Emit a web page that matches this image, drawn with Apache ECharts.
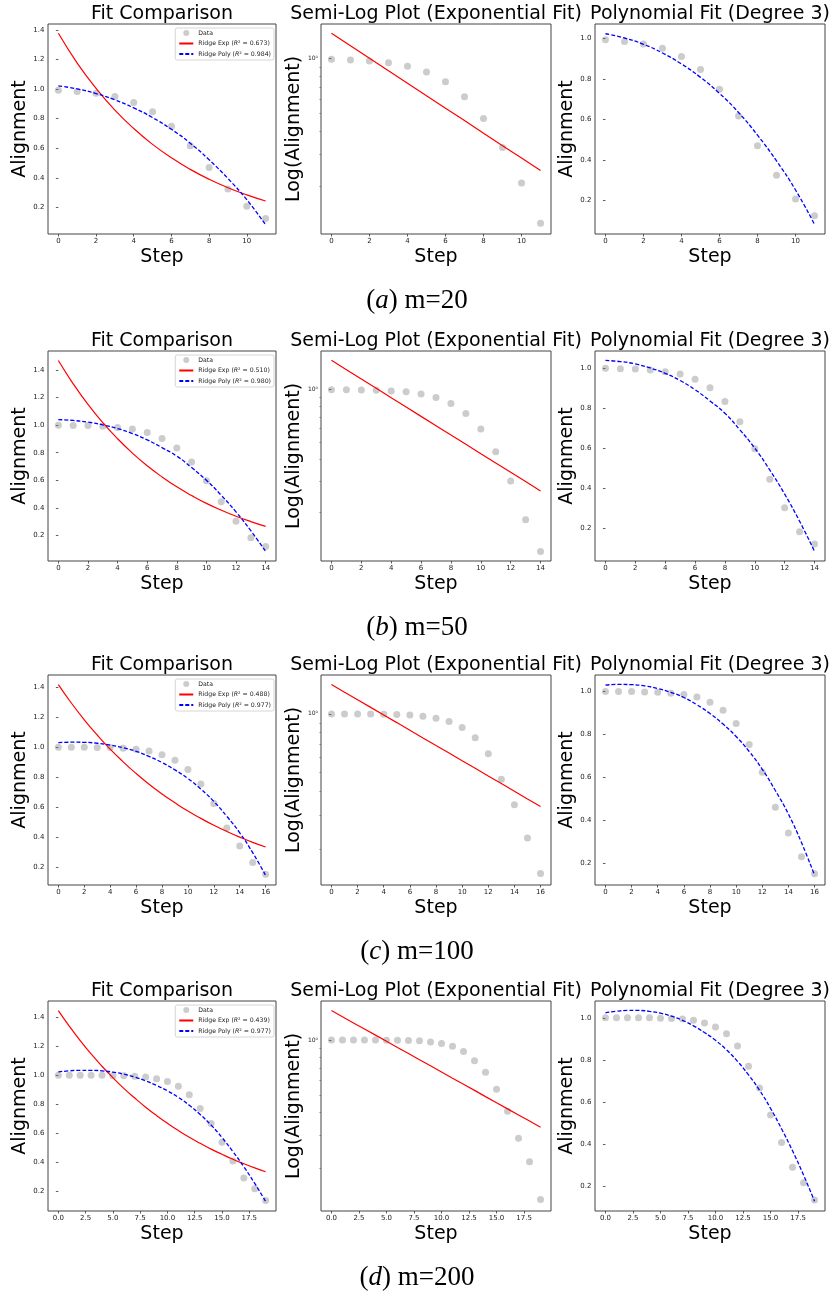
<!DOCTYPE html>
<html><head><meta charset="utf-8">
<script src="https://cdn.jsdelivr.net/npm/echarts@6/dist/echarts.min.js"></script>
<style>html,body{margin:0;padding:0;background:#fff}#c{width:833px;height:1296px}</style>
</head><body><div id="c"></div>
<script>
// ---------------- data ----------------
const steps_a = [0,1,2,3,4,5,6,7,8,9,10,11];
const data_a  = [0.992,0.984,0.972,0.950,0.910,0.846,0.748,0.617,0.470,0.325,0.208,0.125];
const exp_a   = [1.377,1.176,1.005,0.858,0.733,0.626,0.535,0.457,0.390,0.333,0.285,0.243];
const poly_a  = [1.022,1.001,0.970,0.927,0.873,0.807,0.728,0.634,0.522,0.395,0.252,0.082];

const steps_b = [0,1,2,3,4,5,6,7,8,9,10,11,12,13,14];
const data_b  = [1.000,0.998,0.997,0.992,0.983,0.972,0.946,0.903,0.834,0.732,0.597,0.444,0.302,0.182,0.120];
const exp_b   = [1.469,1.300,1.150,1.018,0.901,0.797,0.705,0.624,0.552,0.489,0.432,0.383,0.339,0.300,0.265];
const poly_b  = [1.040,1.034,1.022,1.002,0.975,0.939,0.893,0.837,0.775,0.692,0.600,0.491,0.370,0.234,0.083];

const steps_c = [0,1,2,3,4,5,6,7,8,9,10,11,12,13,14,15,16];
const data_c  = [1.000,1.000,1.000,0.998,0.997,0.992,0.986,0.974,0.950,0.913,0.851,0.753,0.623,0.460,0.340,0.229,0.150];
const exp_c   = [1.418,1.295,1.183,1.081,0.987,0.902,0.824,0.752,0.687,0.628,0.573,0.524,0.478,0.437,0.399,0.364,0.333];
const poly_c  = [1.030,1.033,1.032,1.026,1.014,0.996,0.972,0.938,0.897,0.848,0.790,0.720,0.637,0.538,0.428,0.295,0.143];

const steps_d = [0,1,2,3,4,5,6,7,8,9,10,11,12,13,14,15,16,17,18,19];
const data_d  = [1.000,1.000,1.000,1.000,1.000,0.998,0.997,0.994,0.989,0.976,0.957,0.924,0.866,0.770,0.667,0.538,0.408,0.290,0.216,0.134];
const exp_d   = [1.448,1.340,1.240,1.148,1.063,0.984,0.910,0.843,0.780,0.722,0.668,0.618,0.572,0.530,0.490,0.454,0.420,0.389,0.360,0.333];
const poly_d  = [1.024,1.031,1.035,1.035,1.031,1.022,1.008,0.988,0.962,0.930,0.893,0.848,0.793,0.729,0.656,0.570,0.473,0.368,0.253,0.128];

const r2Exp  = ['0.673','0.510','0.488','0.439'];
const r2Poly = ['0.984','0.980','0.977','0.977'];
const captionLetters = ['a','b','c','d'];
const captionM = ['m=20','m=50','m=100','m=200'];

// tick labels
const xTicks_a = [0,2,4,6,8,10];
const xTicks_b = [0,2,4,6,8,10,12,14];
const xTicks_c = [0,2,4,6,8,10,12,14,16];
const xTicks_d = [0,2.5,5,7.5,10,12.5,15,17.5];
const yTicksFit  = [0.2,0.4,0.6,0.8,1.0,1.2,1.4];
const yTicksPoly = [0.2,0.4,0.6,0.8,1.0];
const logMinorTicks = [0.2,0.3,0.4,0.5,0.6,0.7,0.8,0.9];
const colTitles = ['Fit Comparison','Semi-Log Plot (Exponential Fit)','Polynomial Fit (Degree 3)'];
const colYNames = ['Alignment','Log(Alignment)','Alignment'];

// axis limits
const xMin = [-0.55,-0.7,-0.8,-0.95], xMax = [11.55,14.7,16.8,19.95];
const yFitMin = [0.02,0.014,0.079,0.062], yFitMax = [1.44,1.538,1.482,1.514];
const yLogMin = [0.109,0.106,0.131,0.116], yLogMax = [1.55,1.66,1.588,1.634];
const yPolyMin = [0.035,0.035,0.097,0.082], yPolyMax = [1.07,1.087,1.077,1.080];

// ---------------- layout ----------------
const W = 833;
const colLeft = [48,321,595], colWidth = [228,230,230];
const rowTop = [24,351,675,1001], rowH = 210;
const colCenter = [162,436,710];
const yNameGap = [18,16,17];

const rows = [
  {steps:steps_a,data:data_a,exp:exp_a,poly:poly_a,xt:xTicks_a,dec:0},
  {steps:steps_b,data:data_b,exp:exp_b,poly:poly_b,xt:xTicks_b,dec:0},
  {steps:steps_c,data:data_c,exp:exp_c,poly:poly_c,xt:xTicks_c,dec:0},
  {steps:steps_d,data:data_d,exp:exp_d,poly:poly_d,xt:xTicks_d,dec:1}
];

const FONT = 'DejaVu Sans';
const titles = [], legends = [], grids = [], xAxes = [], yAxes = [], series = [];
const tickStyle = {color:'#333', width:0.8};
const lblStyle = {fontSize:7, color:'#222', fontFamily:FONT};
const nameStyle = {fontSize:19, color:'#000', fontFamily:FONT};
const dotColor = 'rgba(128,128,128,0.5)';

rows.forEach((R, r) => {
  const pairs = arr => R.steps.map((s,i) => [s, arr[i]]);
  const expName = 'Ridge Exp (R² = ' + r2Exp[r] + ')';
  const polyName = 'Ridge Poly (R² = ' + r2Poly[r] + ')';
  for (let c = 0; c < 3; c++) {
    const gi = r*3 + c;
    grids.push({left:colLeft[c], top:rowTop[r], width:colWidth[c], height:rowH,
      show:true, borderColor:'#444', borderWidth:1, backgroundColor:'rgba(0,0,0,0)'});
    titles.push({text:colTitles[c], left:colCenter[c], top:rowTop[r]-21,
      textAlign:'center', padding:0,
      textStyle:{fontSize:19, fontWeight:'normal', color:'#000', fontFamily:FONT, lineHeight:22}});
    xAxes.push({type:'value', gridIndex:gi, min:xMin[r], max:xMax[r],
      name:'Step', nameLocation:'middle', nameGap:14, nameTextStyle:nameStyle,
      axisLine:{show:false}, splitLine:{show:false},
      axisTick:{show:true, length:2.5, lineStyle:tickStyle, customValues:R.xt},
      axisLabel:Object.assign({margin:3.5, customValues:R.xt,
        formatter: v => R.dec ? Number(v).toFixed(1) : String(Math.round(v))}, lblStyle)});
    if (c === 1) {
      yAxes.push({type:'log', logBase:10, gridIndex:gi, min:yLogMin[r], max:yLogMax[r],
        name:colYNames[c], nameLocation:'middle', nameGap:yNameGap[c], nameTextStyle:nameStyle,
        axisLine:{show:false}, splitLine:{show:false},
        axisTick:{show:true, length:2.5, lineStyle:tickStyle},
        axisLabel:Object.assign({margin:3, showMinLabel:false, showMaxLabel:false,
          formatter: v => Math.abs(v-1) < 1e-6 ? '10⁰' : ''}, lblStyle, {fontSize:6})});
    } else {
      const yt = c === 0 ? yTicksFit : yTicksPoly;
      yAxes.push({type:'value', gridIndex:gi,
        min: c===0 ? yFitMin[r] : yPolyMin[r], max: c===0 ? yFitMax[r] : yPolyMax[r],
        name:colYNames[c], nameLocation:'middle', nameGap:yNameGap[c], nameTextStyle:nameStyle,
        axisLine:{show:false}, splitLine:{show:false},
        axisTick:{show:true, length:2.5, lineStyle:tickStyle, customValues:yt},
        axisLabel:Object.assign({margin:3.5, customValues:yt, formatter: v => Number(v).toFixed(1)}, lblStyle)});
    }
    series.push({type:'scatter', name:'Data', xAxisIndex:gi, yAxisIndex:gi, data:pairs(R.data),
      symbol:'circle', symbolSize:7, itemStyle:{color:dotColor}, z:2, silent:true});
    if (c === 0 || c === 1) {
      series.push({type:'line', name:expName, xAxisIndex:gi, yAxisIndex:gi, data:pairs(R.exp),
        symbol:'none', smooth: c===0, lineStyle:{color:'#ff0000', width:1.2}, itemStyle:{color:'#ff0000'}, z:3, silent:true});
    }
    if (c === 0 || c === 2) {
      series.push({type:'line', name:polyName, xAxisIndex:gi, yAxisIndex:gi, data:pairs(R.poly),
        symbol:'none', smooth:true, lineStyle:{color:'#0000ff', width:1.3, type:[4,2]}, itemStyle:{color:'#0000ff'}, z:4, silent:true});
    }
  }
  legends.push({orient:'vertical', right: W-274, top: rowTop[r]+4,
    data:[{name:'Data', icon:'circle'},
          {name:expName, itemStyle:{opacity:0}},
          {name:polyName, itemStyle:{opacity:0}}],
    itemWidth:14, itemHeight:6, itemGap:4.5, padding:[2,3,3,3],
    backgroundColor:'rgba(255,255,255,0.8)', borderColor:'#ccc', borderWidth:0.8, borderRadius:2,
    selectedMode:false,
    textStyle:{fontSize:6.2, color:'#222', fontFamily:FONT,
      rich:{i:{fontSize:6.2, fontStyle:'italic', color:'#222', fontFamily:FONT}}},
    formatter: n => n.replace('R²', '{i|R}²')});
  const capY = rowTop[r] + rowH + 67;
  titles.push({text:'{p|(}{i|' + captionLetters[r] + '}{p|) ' + captionM[r] + '}',
    left:417, top:capY-15, textAlign:'center', padding:0,
    textStyle:{fontWeight:'normal', rich:{
      p:{fontFamily:'Liberation Serif', fontSize:27, fontWeight:'normal', color:'#000', lineHeight:30},
      i:{fontFamily:'Liberation Serif', fontSize:27, fontWeight:'normal', fontStyle:'italic', color:'#000', lineHeight:30}}}});
});

// minor ticks for the log axes
rows.forEach((R, r) => {
  const gi = r*3 + 1;
  yAxes.push({type:'log', logBase:10, gridIndex:gi, min:yLogMin[r], max:yLogMax[r], position:'left',
    axisLine:{show:false}, splitLine:{show:false}, axisLabel:{show:false},
    axisTick:{show:true, length:1.6, lineStyle:{color:'#555', width:0.6}, customValues:logMinorTicks}});
});

const chart = echarts.init(document.getElementById('c'), null, {renderer:'canvas'});
chart.setOption({animation:false, backgroundColor:'#fff', textStyle:{fontFamily:FONT},
  title:titles, legend:legends, grid:grids, xAxis:xAxes, yAxis:yAxes, series:series});
</script></body></html>
